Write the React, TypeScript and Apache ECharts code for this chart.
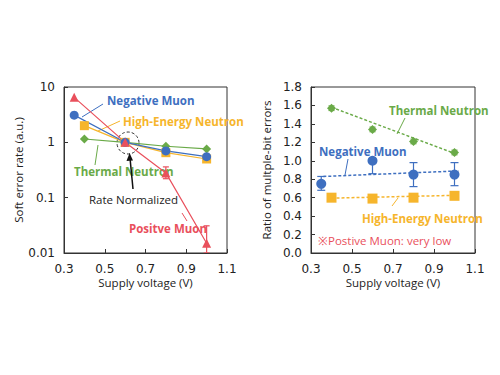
import React, { useEffect, useRef } from "react";
import * as echarts from "echarts";

// ---- Left chart: soft error rate (a.u.), log scale ----
const leftPosMuonX = [0.35, 0.6, 0.8, 1.0];
const leftPosMuonY = [6.5, 1, 0.28, 0.015];
const leftPosMuonErrX = [0.8, 1.0];
const leftPosMuonErrLo = [0.22, 0.01];
const leftPosMuonErrHi = [0.36, 0.031];

const leftNegMuonX = [0.35, 0.6, 0.8, 1.0];
const leftNegMuonY = [3.1, 1, 0.7, 0.55];

const leftHeNeutronX = [0.4, 0.6, 0.8, 1.0];
const leftHeNeutronY = [2.0, 1, 0.65, 0.5];

const leftThNeutronX = [0.4, 0.6, 0.8, 1.0];
const leftThNeutronY = [1.15, 1, 0.85, 0.76];

// ---- Right chart: ratio of multiple-bit errors ----
const rightThX = [0.4, 0.6, 0.8, 1.0];
const rightThY = [1.57, 1.34, 1.21, 1.09];
const rightThLo = [1.545, 1.315, 1.185, 1.065];
const rightThHi = [1.595, 1.365, 1.235, 1.115];

const rightNegX = [0.35, 0.6, 0.8, 1.0];
const rightNegY = [0.75, 1.0, 0.85, 0.85];
const rightNegLo = [0.68, 0.86, 0.72, 0.73];
const rightNegHi = [0.83, 1.0, 0.98, 0.98];

const rightHeX = [0.4, 0.6, 0.8, 1.0];
const rightHeY = [0.6, 0.59, 0.6, 0.62];

const trendThX = [0.4, 1.0];
const trendThY = [1.58, 1.08];
const trendNegX = [0.36, 1.02];
const trendNegY = [0.83, 0.89];
const trendHeX = [0.4, 1.0];
const trendHeY = [0.595, 0.625];

const xTicks = [0.3, 0.5, 0.7, 0.9, 1.1];

const RED = "#e9505c";
const BLUE = "#3e6fc0";
const YELLOW = "#f6b52c";
const GREEN = "#6aaa48";

const pairs = (xs: number[], ys: number[]) => xs.map((x, i) => [x, ys[i]]);
const triples = (xs: number[], lo: number[], hi: number[]) => xs.map((x, i) => [x, lo[i], hi[i]]);

function errRender(color: string, cap: number) {
  return (params: any, api: any) => {
    const x = api.value(0);
    const lo = api.value(1);
    const hi = api.value(2);
    const p1 = api.coord([x, lo]);
    const p2 = api.coord([x, hi]);
    const style = { stroke: color, lineWidth: 1.2 };
    return {
      type: "group",
      children: [
        { type: "line", shape: { x1: p1[0], y1: p1[1], x2: p2[0], y2: p2[1] }, style },
        { type: "line", shape: { x1: p1[0] - cap, y1: p1[1], x2: p1[0] + cap, y2: p1[1] }, style },
        { type: "line", shape: { x1: p2[0] - cap, y1: p2[1], x2: p2[0] + cap, y2: p2[1] }, style },
      ],
    };
  };
}

const FONT = "Open Sans";
const TICKFONT = "DejaVu Sans";

export default function App() {
  const ref = useRef<HTMLDivElement>(null);
  useEffect(() => {
    if (!ref.current) return;
    const chart = echarts.init(ref.current, undefined, { renderer: "svg" });

    const xAxisBase = (gridIndex: number) => ({
      type: "value",
      gridIndex,
      min: 0.3,
      max: 1.1,
      splitLine: { show: false },
      axisLine: { show: true, lineStyle: { color: "#333", width: 1 } },
      axisTick: { show: true, inside: true, length: 4, customValues: xTicks, lineStyle: { color: "#333" } },
      axisLabel: {
        customValues: xTicks,
        formatter: (v: number) => v.toFixed(1),
        color: "#222",
        fontFamily: TICKFONT,
        fontSize: 12,
        margin: 10,
      },
      name: "Supply voltage (V)",
      nameLocation: "middle",
      nameGap: 23,
      nameTextStyle: { color: "#222", fontFamily: FONT, fontSize: 11.5 },
    });

    const label = (x: number, y: number, text: string, color: string, bold = true, size = 11.5) => ({
      type: "text",
      x,
      y,
      style: {
        text,
        fill: color,
        font: `${bold ? "bold " : ""}${size}px "${FONT}"`,
        textVerticalAlign: "middle",
      },
    });
    const lead = (x1: number, y1: number, x2: number, y2: number, color: string) => ({
      type: "line",
      shape: { x1, y1, x2, y2 },
      style: { stroke: color, lineWidth: 1 },
    });

    chart.setOption({
      animation: false,
      backgroundColor: "#fff",
      grid: [
        { left: 64, right: 273, top: 87, bottom: 122, show: true, borderColor: "#333", borderWidth: 1, backgroundColor: "transparent" },
        { left: 311, right: 25, top: 87, bottom: 122, show: true, borderColor: "#333", borderWidth: 1, backgroundColor: "transparent" },
      ],
      xAxis: [xAxisBase(0), xAxisBase(1)],
      yAxis: [
        {
          type: "log",
          gridIndex: 0,
          logBase: 10,
          min: 0.01,
          max: 10,
          splitLine: { show: false },
          minorTick: { show: false },
          axisLine: { show: true, lineStyle: { color: "#333" } },
          axisTick: { show: true, inside: true, length: 4, lineStyle: { color: "#333" } },
          axisLabel: {
            formatter: (v: number) => (v >= 1 ? String(Math.round(v)) : v.toPrecision(1)),
            color: "#222",
            fontFamily: TICKFONT,
            fontSize: 12,
            margin: 9,
          },
          name: "Soft error rate (a.u.)",
          nameLocation: "middle",
          nameGap: 38,
          nameTextStyle: { color: "#222", fontFamily: FONT, fontSize: 11.5 },
        },
        {
          type: "value",
          gridIndex: 1,
          min: 0,
          max: 1.8,
          interval: 0.2,
          splitLine: { show: false },
          axisLine: { show: true, lineStyle: { color: "#333" } },
          axisTick: { show: true, inside: true, length: 4, lineStyle: { color: "#333" } },
          axisLabel: {
            formatter: (v: number) => v.toFixed(1),
            color: "#222",
            fontFamily: TICKFONT,
            fontSize: 12,
            margin: 9,
          },
          name: "Ratio of multple-bit errors",
          nameLocation: "middle",
          nameGap: 39,
          nameTextStyle: { color: "#222", fontFamily: FONT, fontSize: 11.5 },
        },
      ],
      series: [
        // left chart
        {
          type: "line", xAxisIndex: 0, yAxisIndex: 0, data: pairs(leftThNeutronX, leftThNeutronY),
          symbol: "diamond", symbolSize: 9, itemStyle: { color: GREEN }, lineStyle: { color: GREEN, width: 1.2 },
        },
        {
          type: "line", xAxisIndex: 0, yAxisIndex: 0, data: pairs(leftHeNeutronX, leftHeNeutronY),
          symbol: "rect", symbolSize: 9, itemStyle: { color: YELLOW }, lineStyle: { color: YELLOW, width: 1.2 },
        },
        {
          type: "line", xAxisIndex: 0, yAxisIndex: 0, data: pairs(leftNegMuonX, leftNegMuonY),
          symbol: "circle", symbolSize: 9, itemStyle: { color: BLUE }, lineStyle: { color: BLUE, width: 1.2 },
        },
        {
          type: "line", xAxisIndex: 0, yAxisIndex: 0, data: pairs(leftPosMuonX, leftPosMuonY),
          symbol: "triangle", symbolSize: 9, itemStyle: { color: RED }, lineStyle: { color: RED, width: 1.2 },
        },
        {
          type: "custom", xAxisIndex: 0, yAxisIndex: 0, clip: true,
          data: triples(leftPosMuonErrX, leftPosMuonErrLo, leftPosMuonErrHi),
          renderItem: errRender(RED, 3),
        },
        // right chart trend lines
        {
          type: "line", xAxisIndex: 1, yAxisIndex: 1, data: pairs(trendThX, trendThY), symbol: "none",
          lineStyle: { color: GREEN, width: 1.5, type: [3, 2] },
        },
        {
          type: "line", xAxisIndex: 1, yAxisIndex: 1, data: pairs(trendNegX, trendNegY), symbol: "none",
          lineStyle: { color: BLUE, width: 1.5, type: [3, 2] },
        },
        {
          type: "line", xAxisIndex: 1, yAxisIndex: 1, data: pairs(trendHeX, trendHeY), symbol: "none",
          lineStyle: { color: YELLOW, width: 1.5, type: [3, 2] },
        },
        // right chart error bars
        {
          type: "custom", xAxisIndex: 1, yAxisIndex: 1,
          data: triples(rightThX, rightThLo, rightThHi), renderItem: errRender(GREEN, 3),
        },
        {
          type: "custom", xAxisIndex: 1, yAxisIndex: 1,
          data: triples(rightNegX, rightNegLo, rightNegHi), renderItem: errRender(BLUE, 4),
        },
        // right chart points
        {
          type: "scatter", xAxisIndex: 1, yAxisIndex: 1, data: pairs(rightThX, rightThY),
          symbol: "diamond", symbolSize: 9, itemStyle: { color: GREEN, opacity: 1 },
        },
        {
          type: "scatter", xAxisIndex: 1, yAxisIndex: 1, data: pairs(rightNegX, rightNegY),
          symbol: "circle", symbolSize: 10, itemStyle: { color: BLUE, opacity: 1 },
        },
        {
          type: "scatter", xAxisIndex: 1, yAxisIndex: 1, data: pairs(rightHeX, rightHeY),
          symbol: "rect", symbolSize: 10, itemStyle: { color: YELLOW, opacity: 1 },
        },
      ],
      graphic: [
        // left annotations
        label(107, 100, "Negative Muon", BLUE),
        lead(82, 117, 103, 104, BLUE),
        label(123, 121, "High-Energy Neutron", YELLOW),
        lead(98, 131, 120, 121, YELLOW),
        label(74, 171, "Thermal Neutron", GREEN),
        lead(98, 145, 95, 165, GREEN),
        label(89, 199, "Rate Normalized", "#222", false, 11.5),
        label(129, 228, "Positve Muon", RED),
        lead(182, 213, 187, 221, RED),
        {
          type: "circle",
          shape: { cx: 128, cy: 143, r: 11 },
          style: { fill: "none", stroke: "#333", lineWidth: 1, lineDash: [3, 2] },
        },
        { type: "line", shape: { x1: 133, y1: 189, x2: 130, y2: 158 }, style: { stroke: "#111", lineWidth: 1.5 } },
        { type: "polygon", shape: { points: [[129.6, 153], [126.5, 161], [133, 160.5]] }, style: { fill: "#111" } },
        // right annotations
        label(389, 110, "Thermal Neutron", GREEN),
        lead(397, 134, 405, 118, GREEN),
        label(319, 151, "Negative Muon", BLUE),
        lead(345, 175, 348, 159, BLUE),
        label(362, 218, "High-Energy Neutron", YELLOW),
        lead(392, 206, 398, 198, YELLOW),
        label(318, 240, "※Postive Muon: very low", RED, false, 11.5),
      ],
    });
    return () => chart.dispose();
  }, []);
  return (
    <div
      ref={ref}
      style={{ position: "fixed", left: 0, top: 0, width: 500, height: 375, background: "#fff" }}
    />
  );
}
